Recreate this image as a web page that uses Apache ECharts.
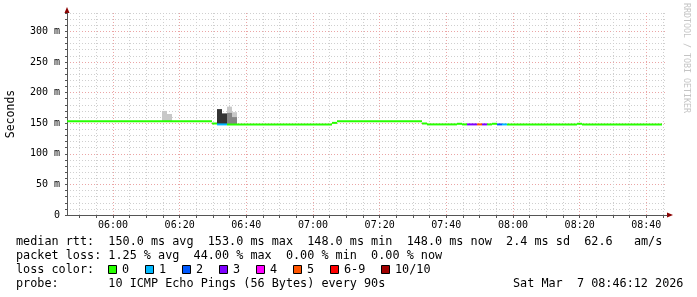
<!DOCTYPE html>
<html><head><meta charset="utf-8">
<script src="https://cdn.jsdelivr.net/npm/echarts@6/dist/echarts.min.js"></script>
<style>html,body{margin:0;padding:0;background:#fff}#c{width:697px;height:297px}</style>
</head><body><div id="c"></div>
<script>
// ---- time frame (minutes since midnight) ----
const startMinute = 346.2;   // 05:46:12
const endMinute = 526.2;     // 08:46:12
const stepMinutes = 1.5;     // 90 s steps
const xLabelMinutes = [360, 380, 400, 420, 440, 460, 480, 500, 520];
const yMax = 330;

// ---- median RTT (ms) in runs of 90 s steps: first step, last step, value, lost pings of 10 ----
const runFirst = [0,   29,    30,  32,  53,    54,  71,    72,  78,  79,  80,  82,  83,  84,  85,  86,  87,  88,  102, 103];
const runLast  = [28,  29,    31,  52,  53,    70,  71,    77,  78,  79,  81,  82,  83,  84,  85,  86,  87,  101, 102, 118];
const runRtt   = [153, 149.5, 148, 148, 150.5, 153, 149.5, 148, 149, 148, 148, 148, 148, 148, 149, 148, 148, 148, 149, 148];
const runLoss  = [0,   0,     1,   0,   0,     0,   0,     0,   0,   0,   3,   5,   3,   0,   0,   2,   1,   0,   0,   0];

// ---- smoke (ping spread) per step: step, low ms, high ms, shade ----
const smokeStep  = [19,  20,  30,  31,  32,  32,  33,  33];
const smokeLow   = [152, 152, 147, 147, 167, 147, 160, 147];
const smokeHigh  = [170, 165, 173, 166, 177, 167, 168, 160];
const smokeShade = ['light','light','dark','dark','light','mid','light','mid'];

// ---- loss colour legend ----
const lossLabels = ['0','1','2','3','4','5','6-9','10/10'];
const lossColors = ['#26ff00','#00b8ff','#0059ff','#7e00ff','#ff00ff','#ff5500','#ff0000','#a10000'];

const legendLines = [
  'median rtt:  150.0 ms avg  153.0 ms max  148.0 ms min  148.0 ms now  2.4 ms sd  62.6   am/s',
  'packet loss: 1.25 % avg  44.00 % max  0.00 % min  0.00 % now',
  'loss color:',
  'probe:       10 ICMP Echo Pings (56 Bytes) every 90s'
];
const stampText = 'Sat Mar  7 08:46:12 2026';

const shadeColors = {light: '#c8c8c8', mid: '#858585', dark: '#333333'};
function lossBucket(n) { return n <= 5 ? n : (n < 10 ? 6 : 7); }

const medianData = runFirst.map((f, k) => [
  startMinute + f * stepMinutes,
  startMinute + (runLast[k] + 1) * stepMinutes,
  runRtt[k],
  lossBucket(runLoss[k])
]);
const smokeData = smokeStep.map((s, k) => [
  startMinute + s * stepMinutes,
  startMinute + (s + 1) * stepMinutes,
  smokeLow[k], smokeHigh[k], smokeShade[k]
]);

const minorTicks = [];
for (let m = 350; m <= 525; m += 5) minorTicks.push(m);

const MONO = 'DejaVu Sans Mono';
const majorColor = '#eba5a5';
const minorColor = '#cfcfcf';
const axisColor = '#555555';
const arrowColor = '#8b0000';

function fmtTime(v) {
  const h = Math.floor(v / 60), m = Math.round(v - h * 60);
  return String(h).padStart(2, '0') + ':' + String(m).padStart(2, '0');
}

const chart = echarts.init(document.getElementById('c'), null, {renderer: 'canvas'});

const rowTop = 235.5, rowGap = 14.1;
const graphics = [];
legendLines.forEach((t, i) => {
  graphics.push({type: 'text', left: 16, top: rowTop + i * rowGap,
    style: {text: t, font: '11.8px "' + MONO + '"', fill: '#000'}});
});
graphics.push({type: 'text', left: 513, top: rowTop + 3 * rowGap,
  style: {text: stampText, font: '11.8px "' + MONO + '"', fill: '#000'}});
const boxX = [108, 145, 182, 219, 256, 293, 330, 381];
lossLabels.forEach((lab, i) => {
  graphics.push({type: 'rect', shape: {x: boxX[i] + 0.5, y: 265.5, width: 8, height: 8},
    style: {fill: lossColors[i], stroke: '#000', lineWidth: 1}});
  graphics.push({type: 'text', left: boxX[i] + 14, top: rowTop + 2 * rowGap,
    style: {text: lab, font: '11.8px "' + MONO + '"', fill: '#000'}});
});
graphics.push({type: 'text', x: 11, y: 114, rotation: Math.PI / 2,
  style: {text: 'Seconds', font: '11.5px "' + MONO + '"', fill: '#000', align: 'center', verticalAlign: 'middle'}});
graphics.push({type: 'text', x: 686, y: 58, rotation: -Math.PI / 2,
  style: {text: 'RRDTOOL / TOBI OETIKER', font: '8.3px "' + MONO + '"', fill: '#c4c4c4', align: 'center', verticalAlign: 'middle'}});

chart.setOption({
  animation: false,
  backgroundColor: '#ffffff',
  grid: {left: 67, right: 30, top: 13, bottom: 82, containLabel: false},
  xAxis: [{
    type: 'value', min: startMinute, max: endMinute, z: 1,
    axisLine: {show: true, onZero: false, lineStyle: {color: axisColor, width: 1}},
    axisTick: {show: true, customValues: minorTicks, length: 3, lineStyle: {color: axisColor}},
    axisLabel: {customValues: xLabelMinutes, formatter: fmtTime, fontFamily: MONO, fontSize: 10, color: '#000', margin: 5},
    splitLine: {show: true, lineStyle: {color: [minorColor, minorColor, majorColor, minorColor], type: [1, 2], width: 1}}
  }, {
    type: 'value', min: startMinute, max: endMinute, position: 'bottom', z: 0,
    axisLine: {show: true, onZero: false, symbol: ['none', 'triangle'], symbolSize: [5, 6], symbolOffset: [0, 3], lineStyle: {color: arrowColor}},
    axisTick: {show: false}, axisLabel: {show: false}, splitLine: {show: false}
  }],
  yAxis: [{
    type: 'value', min: 0, max: yMax, interval: 10, z: 1,
    axisLine: {show: true, onZero: false, lineStyle: {color: axisColor, width: 1}},
    axisTick: {show: true, length: 2, lineStyle: {color: axisColor}},
    axisLabel: {formatter: v => (v % 50 === 0 && v < yMax) ? (v === 0 ? '0' : v + ' m') : '',
      fontFamily: MONO, fontSize: 10, color: '#000', margin: 7},
    splitLine: {show: true, lineStyle: {color: [majorColor, minorColor, minorColor, minorColor, minorColor], type: [1, 2], width: 1}}
  }, {
    type: 'value', min: 0, max: yMax, position: 'left', z: 0,
    axisLine: {show: true, onZero: false, symbol: ['none', 'triangle'], symbolSize: [5, 6], symbolOffset: [0, 3], lineStyle: {color: arrowColor}},
    axisTick: {show: false}, axisLabel: {show: false}, splitLine: {show: false}
  }],
  series: [{
    type: 'custom', name: 'smoke', data: smokeData, z: 2, clip: true,
    renderItem: (params, api) => {
      const p0 = api.coord([api.value(0), api.value(3)]);
      const p1 = api.coord([api.value(1), api.value(2)]);
      return {type: 'rect', shape: {x: p0[0], y: p0[1], width: p1[0] - p0[0], height: p1[1] - p0[1]},
        style: {fill: shadeColors[smokeData[params.dataIndex][4]]}};
    }
  }, {
    type: 'custom', name: 'median rtt', data: medianData, z: 3, clip: true,
    renderItem: (params, api) => {
      const p0 = api.coord([api.value(0), api.value(2)]);
      const p1 = api.coord([api.value(1), api.value(2)]);
      return {type: 'rect', shape: {x: p0[0], y: p0[1] - 1, width: p1[0] - p0[0], height: 2},
        style: {fill: lossColors[api.value(3)]}};
    }
  }],
  graphic: graphics
});
</script></body></html>
